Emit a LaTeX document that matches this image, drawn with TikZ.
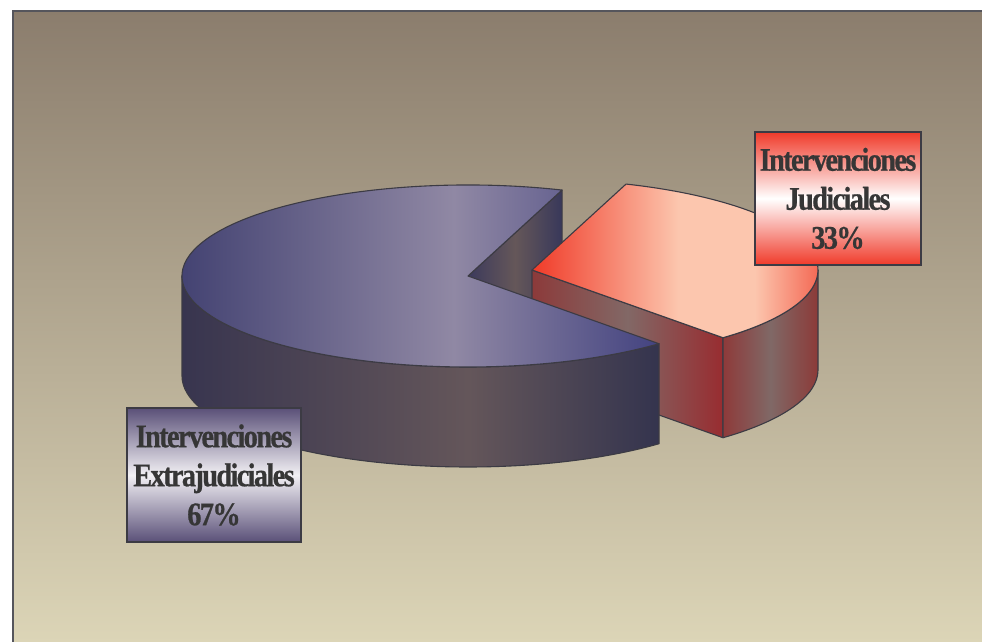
\documentclass[tikz,border=0pt]{standalone}
\usepackage{fontspec}
\newfontfamily\lblfont[FakeStretch=0.86, LetterSpace=-5, FakeBold=0.6]{Liberation Serif}
\usetikzlibrary{calc}

\definecolor{bgtop}{HTML}{8B7D6D}
\definecolor{bgbot}{HTML}{DCD5B7}
\definecolor{edge}{HTML}{3C3B44}
\definecolor{framec}{HTML}{55555C}
\definecolor{ink}{HTML}{363636}
\definecolor{navyA}{HTML}{3A3A6C}
\definecolor{lavA}{HTML}{9088A4}
\definecolor{navyB}{HTML}{434380}
\definecolor{sideA}{HTML}{38354F}
\definecolor{sideB}{HTML}{64565A}
\definecolor{sideC}{HTML}{34344E}
\definecolor{cutA}{HTML}{3C3A5C}
\definecolor{cutB}{HTML}{655759}
\definecolor{cutC}{HTML}{38385A}
\definecolor{redA}{HTML}{F03A28}
\definecolor{peach}{HTML}{FCC6AE}
\definecolor{rcutA}{HTML}{8C3A3A}
\definecolor{rcutB}{HTML}{826866}
\definecolor{rcutC}{HTML}{982C30}
\definecolor{rsideA}{HTML}{8E3A3A}
\definecolor{rsideB}{HTML}{806866}
\definecolor{rsideC}{HTML}{8C3A38}
\definecolor{redbox}{HTML}{F03A2A}
\definecolor{bluebox}{HTML}{5A5078}
\definecolor{boxmid}{HTML}{F2F0F4}

\pgfdeclarehorizontalshading{bluetop}{100bp}{color(0bp)=(navyA); color(25bp)=(navyA); color(55bp)=(lavA); color(75bp)=(navyB); color(100bp)=(navyB)}
\pgfdeclarehorizontalshading{blueside}{100bp}{color(0bp)=(sideA); color(25bp)=(sideA); color(55bp)=(sideB); color(75bp)=(sideC); color(100bp)=(sideC)}
\pgfdeclarehorizontalshading{bluecut}{100bp}{color(0bp)=(cutA); color(25bp)=(cutA); color(50bp)=(cutB); color(75bp)=(cutC); color(100bp)=(cutC)}
\pgfdeclarehorizontalshading{redtop}{100bp}{color(0bp)=(redA); color(25bp)=(redA); color(48bp)=(peach); color(60bp)=(peach); color(75bp)=(redA); color(100bp)=(redA)}
\pgfdeclarehorizontalshading{redcut}{100bp}{color(0bp)=(rcutA); color(25bp)=(rcutA); color(50bp)=(rcutB); color(75bp)=(rcutC); color(100bp)=(rcutC)}
\pgfdeclarehorizontalshading{redside}{100bp}{color(0bp)=(rsideA); color(25bp)=(rsideA); color(50bp)=(rsideB); color(75bp)=(rsideC); color(100bp)=(rsideC)}

\begin{document}
\begin{tikzpicture}[x=1pt, y=1pt,
	rim/.style={draw=edge, line width=1.1pt, line join=round, shade},
	tag/.style={draw=edge, line width=1.2pt, rectangle, inner sep=0pt, align=center, text=ink, font=\lblfont\bfseries\fontsize{33}{39}\selectfont}]
				\useasboundingbox (0,0) rectangle (982,642);
				\fill[white] (0,0) rectangle (982,642);
				\shade[top color=bgtop, bottom color=bgbot] (13,0) rectangle (982,631);
				\draw[framec, line width=2pt] (13,0) -- (13,631) -- (982,631);
				
				\coordinate (blue) at (468,366);
				\coordinate (blueb) at (468,266);
				\coordinate (red) at (532,372);
				\coordinate (redb) at (532,272);
				
				\draw[rim, shading=bluecut] (blue) -- ($(blue)+(70.8:286 and 91)$) -- ++(0,-100) -- (blueb) -- cycle;
				
				\draw[rim, shading=redcut] (red) -- ($(red)+(-48.1:286 and 91)$) -- ++(0,-100) -- (redb) -- cycle;
				\draw[rim, shading=redside] ($(red)+(-48.1:286 and 91)$) arc[start angle=-48.1, end angle=0, x radius=286, y radius=91] -- ++(0,-100) arc[start angle=0, end angle=-48.1, x radius=286, y radius=91] -- cycle;
				\draw[rim, shading=redtop] (red) -- ($(red)+(-48.1:286 and 91)$) arc[start angle=-48.1, end angle=70.8, x radius=286, y radius=91] -- cycle;
				
				\draw[rim, shading=blueside] ($(blue)+(180:286 and 91)$) arc[start angle=180, end angle=311.9, x radius=286, y radius=91] -- ++(0,-100) arc[start angle=311.9, end angle=180, x radius=286, y radius=91] -- cycle;
				\draw[rim, shading=bluetop] (blue) -- ($(blue)+(70.8:286 and 91)$) arc[start angle=70.8, end angle=311.9, x radius=286, y radius=91] -- cycle;
				
				\node[tag, top color=redbox, bottom color=redbox, middle color=white, minimum width=166pt, minimum height=133pt] (judiciales) at (838,443.5) {Intervenciones\\Judiciales\\33\%};
				\node[tag, top color=bluebox, bottom color=bluebox, middle color=boxmid, minimum width=174pt, minimum height=134pt] (extrajudiciales) at (214,167) {Intervenciones\\Extrajudiciales\\67\%};
			\end{tikzpicture}
\end{document}
